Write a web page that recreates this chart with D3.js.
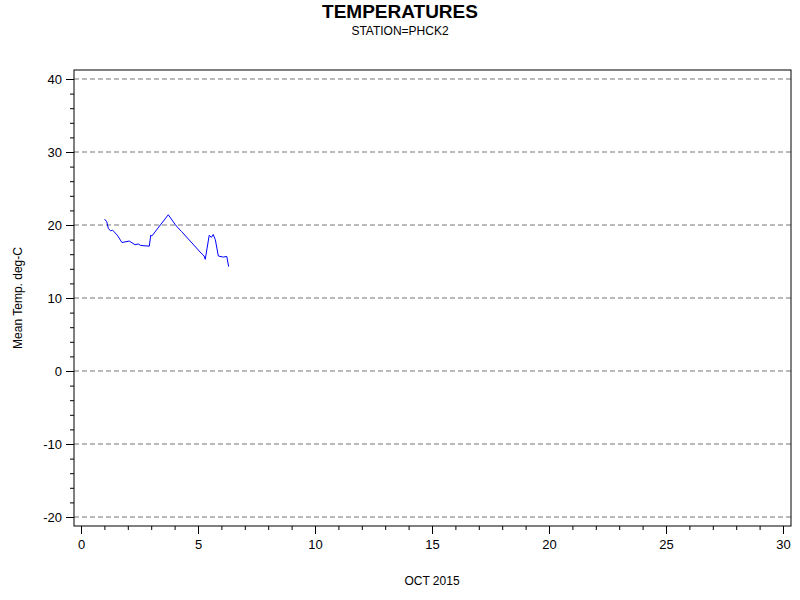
<!DOCTYPE html>
<html><head><meta charset="utf-8">
<script src="https://cdn.jsdelivr.net/npm/d3@7"></script>
<style>
body{margin:0;background:#fff}
text{font-family:"Liberation Sans",Arial,sans-serif}
.axis text{font-size:13px}
</style></head>
<body><div class="svg-container"></div>
<script>
var days = [1.01,1.10,1.17,1.27,1.35,1.55,1.75,2.06,2.31,2.45,2.55,2.92,2.98,3.03,3.73,4.02,4.12,4.30,5.09,5.26,5.31,5.48,5.57,5.65,5.74,5.87,6.08,6.23,6.31];
var temps = [20.8,20.45,19.5,19.2,19.3,18.6,17.6,17.8,17.3,17.4,17.2,17.1,18.6,18.5,21.4,20.1,19.7,19.1,16.3,15.75,15.3,18.6,18.3,18.7,18.0,15.75,15.6,15.7,14.3];
var xTicks = [0,5,10,15,20,25,30];
var yTicks = [-20,-10,0,10,20,30,40];

var width = 800, height = 600;
var plotLeft = 74, plotRight = 791, plotTop = 70, plotBottom = 526;
var data = days.map(function(d, i) { return {day: d, temp: temps[i]}; });

var xScale = d3.scaleLinear().domain([0, 30]).range([81, 783]);
var yScale = d3.scaleLinear().domain([-20, 40]).range([517, 79]);

var svg = d3.select('.svg-container').append('svg')
	.attr('width', width).attr('height', height);

svg.append('text').text('TEMPERATURES')
	.attr('x', 400).attr('y', 18).attr('text-anchor', 'middle')
	.style('font-size', '19px').style('font-weight', 'bold');
svg.append('text').text('STATION=PHCK2')
	.attr('x', 400).attr('y', 35).attr('text-anchor', 'middle')
	.style('font-size', '12px');

// grid
svg.append('g').selectAll('line').data(yTicks).enter().append('line')
	.attr('x1', plotLeft).attr('x2', plotRight)
	.attr('y1', function(d) { return yScale(d); })
	.attr('y2', function(d) { return yScale(d); })
	.attr('stroke', '#777').attr('stroke-dasharray', '5,3');

svg.append('rect').attr('x', plotLeft).attr('y', plotTop)
	.attr('width', plotRight - plotLeft).attr('height', plotBottom - plotTop)
	.attr('fill', 'none').attr('stroke', '#000');

var xMinor = d3.axisBottom(xScale).tickValues(d3.range(0, 31)).tickSize(4).tickFormat('');
svg.append('g').attr('transform', 'translate(0,' + plotBottom + ')').call(xMinor)
	.call(function(g) { g.select('.domain').remove(); });
var xAxis = d3.axisBottom(xScale).tickValues(xTicks).tickSize(8).tickPadding(6).tickFormat(String);
svg.append('g').attr('class', 'axis').attr('transform', 'translate(0,' + plotBottom + ')').call(xAxis)
	.call(function(g) { g.select('.domain').remove(); });

var yMinor = d3.axisLeft(yScale).tickValues(d3.range(-20, 41, 2)).tickSize(4).tickFormat('');
svg.append('g').attr('transform', 'translate(' + plotLeft + ',0)').call(yMinor)
	.call(function(g) { g.select('.domain').remove(); });
var yAxis = d3.axisLeft(yScale).tickValues(yTicks).tickSize(8).tickPadding(4).tickFormat(String);
svg.append('g').attr('class', 'axis').attr('transform', 'translate(' + plotLeft + ',0)').call(yAxis)
	.call(function(g) { g.select('.domain').remove(); });

svg.append('text').text('OCT 2015').attr('x', 432).attr('y', 585)
	.attr('text-anchor', 'middle').style('font-size', '12px');
svg.append('text').text('Mean Temp. deg-C')
	.attr('transform', 'translate(22,298) rotate(-90)')
	.attr('text-anchor', 'middle').style('font-size', '12px');

var line = d3.line()
	.x(function(d) { return xScale(d.day); })
	.y(function(d) { return yScale(d.temp); });
svg.append('path').datum(data).attr('d', line)
	.attr('fill', 'none').attr('stroke', '#0000ff').attr('stroke-width', 1);
</script>
</body></html>
